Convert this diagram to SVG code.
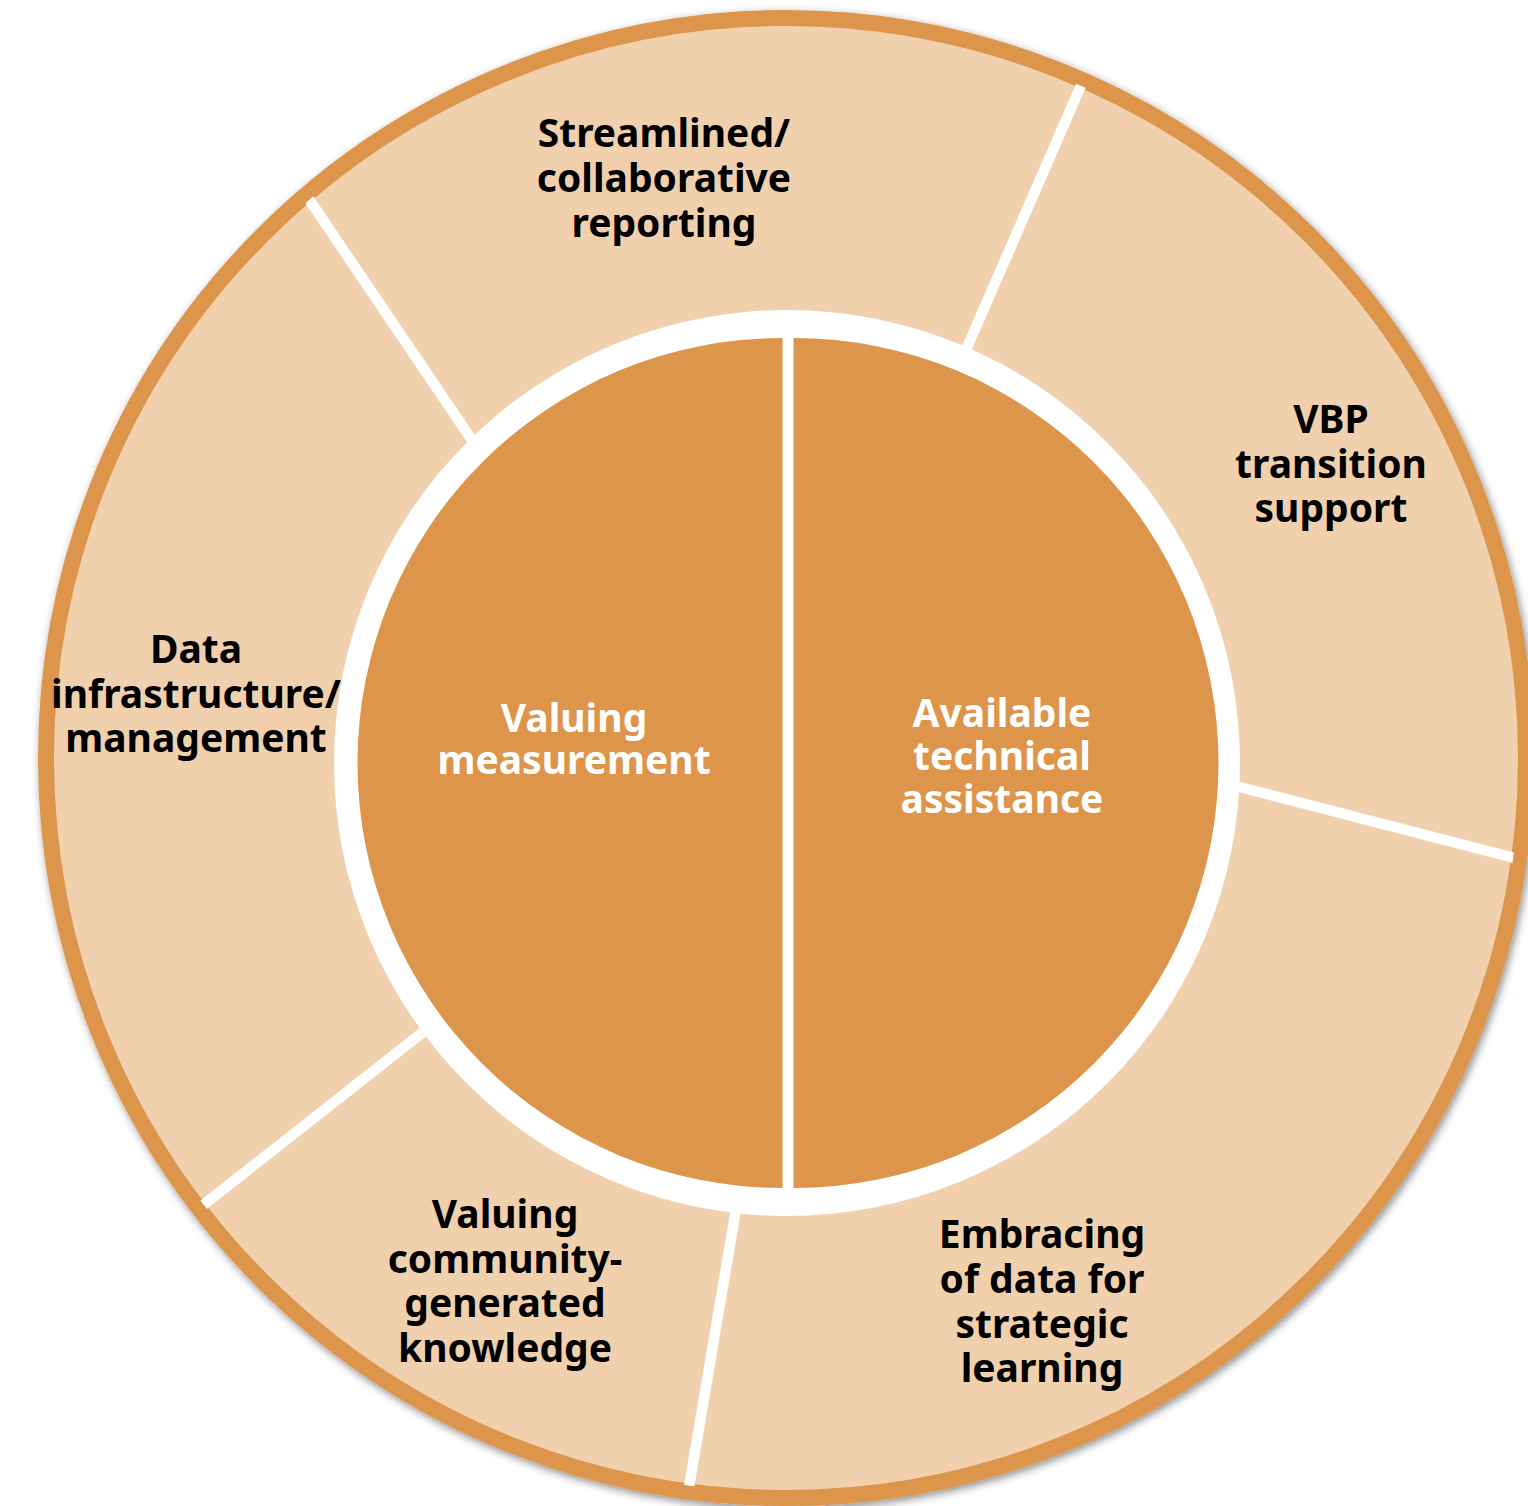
<svg xmlns="http://www.w3.org/2000/svg" width="1528" height="1506" viewBox="0 0 1528 1506">
  <style>
    .lbl { font-family: "Noto Sans", "Open Sans", "DejaVu Sans", sans-serif; font-weight: 700; font-size: 39px; text-anchor: middle; }
    .dark { fill: #000000; }
    .light { fill: #ffffff; }
    .div { stroke: #ffffff; stroke-width: 10.5; fill: none; }
  </style>
  <defs>
    <filter id="shadow" x="-10%" y="-10%" width="120%" height="120%">
      <feDropShadow dx="2" dy="3" stdDeviation="4" flood-color="#000000" flood-opacity="0.45"/>
    </filter>
    <clipPath id="ringclip">
      <circle cx="786" cy="758" r="734"/>
    </clipPath>
  </defs>
  <rect width="1528" height="1506" fill="#ffffff"/>

  <g id="outer-ring">
    <circle cx="786" cy="758" r="740" fill="#F1D0AE" stroke="#DD944B" stroke-width="16" filter="url(#shadow)"/>
  </g>

  <g id="connectors" clip-path="url(#ringclip)">
    <line class="div" x1="300" y1="186" x2="478" y2="449"/>
    <line class="div" x1="1086" y1="74" x2="962" y2="359"/>
    <line class="div" x1="1228" y1="784" x2="1530" y2="862"/>
    <line class="div" x1="737" y1="1203" x2="686" y2="1505"/>
    <line class="div" x1="432" y1="1025" x2="188" y2="1217"/>
  </g>

  <g id="inner-ring">
    <circle cx="787" cy="763" r="453" fill="#ffffff"/>
  </g>

  <g id="node-valuing-measurement">
    <path d="M 782.5 338 A 425 425 0 0 0 782.5 1188 Z" fill="#DD944B"/>
    <text class="lbl light"><tspan x="574" y="732">Valuing</tspan><tspan x="574" y="774">measurement</tspan></text>
  </g>

  <g id="node-available-ta">
    <path d="M 793.5 338 A 425 425 0 0 1 793.5 1188 Z" fill="#DD944B"/>
    <text class="lbl light"><tspan x="1002" y="727">Available</tspan><tspan x="1002" y="770">technical</tspan><tspan x="1002" y="813">assistance</tspan></text>
  </g>

  <g id="node-streamlined">
    <text class="lbl dark"><tspan x="664" y="147">Streamlined/</tspan><tspan x="664" y="192">collaborative</tspan><tspan x="664" y="237">reporting</tspan></text>
  </g>

  <g id="node-vbp">
    <text class="lbl dark"><tspan x="1331" y="433">VBP</tspan><tspan x="1331" y="478">transition</tspan><tspan x="1331" y="522">support</tspan></text>
  </g>

  <g id="node-data-infra">
    <text class="lbl dark"><tspan x="196" y="663">Data</tspan><tspan x="196" y="708">infrastructure/</tspan><tspan x="196" y="752">management</tspan></text>
  </g>

  <g id="node-community">
    <text class="lbl dark"><tspan x="505" y="1228">Valuing</tspan><tspan x="505" y="1273">community-</tspan><tspan x="505" y="1317">generated</tspan><tspan x="505" y="1362">knowledge</tspan></text>
  </g>

  <g id="node-embracing">
    <text class="lbl dark"><tspan x="1042" y="1248">Embracing</tspan><tspan x="1042" y="1293">of data for</tspan><tspan x="1042" y="1338">strategic</tspan><tspan x="1042" y="1382">learning</tspan></text>
  </g>
</svg>
